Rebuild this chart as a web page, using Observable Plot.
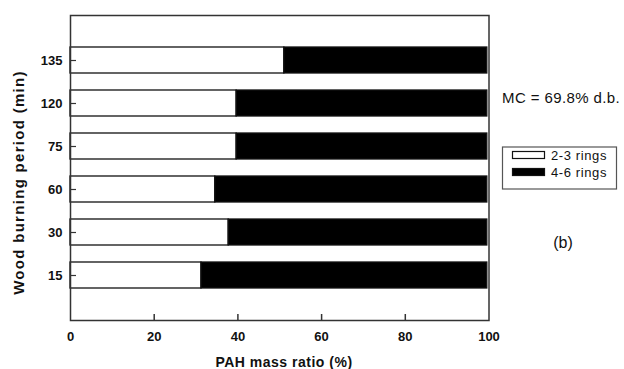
<!DOCTYPE html>
<html><head><meta charset="utf-8">
<script src="https://cdn.jsdelivr.net/npm/d3@7"></script>
<script src="https://cdn.jsdelivr.net/npm/@observablehq/plot@0.6"></script>
<style>body{margin:0;background:#fff}</style>
</head><body><div id="chart"></div>
<script>
// ---- data ----
const periods = ["135", "120", "75", "60", "30", "15"];
const seriesNames = ["2-3 rings", "4-6 rings"];
const ringsLow = [51.1, 39.7, 39.7, 34.6, 37.8, 31.3];
const ringsHigh = [48.5, 59.9, 59.9, 65.0, 61.8, 68.3];
const xTicks = [0, 20, 40, 60, 80, 100];
const xLabel = "PAH mass ratio (%)";
const yLabel = "Wood burning period (min)";
const noteText = "MC = 69.8% d.b.";
const panelText = "(b)";

const W = 624, H = 369;
const ml = 70, mr = 135.5, mt = 15, mb = 49;
const font = "'Liberation Sans', Arial, Helvetica, sans-serif";

const rows = periods.flatMap((p, i) => [
  {period: p, series: seriesNames[0], value: ringsLow[i]},
  {period: p, series: seriesNames[1], value: ringsHigh[i]}
]);

const innerW = W - ml - mr, innerH = H - mt - mb;

const svg = Plot.plot({
  width: W, height: H,
  marginLeft: ml, marginRight: mr, marginTop: mt, marginBottom: mb,
  style: {fontFamily: font, background: "white", color: "#111"},
  x: {domain: [0, 100]},
  y: {domain: periods, paddingInner: 0.4, paddingOuter: 0.7},
  color: {domain: seriesNames, range: ["white", "black"]},
  marks: [
    Plot.barX(rows, {y: "period", x: "value", fill: "series", stroke: "#111", strokeWidth: 1.3, order: seriesNames}),
    Plot.ruleX(xTicks.slice(1, -1), {x: d => d, insetTop: innerH - 6, stroke: "#333", strokeWidth: 1.5}),
    Plot.ruleY(periods, {y: d => d, insetRight: innerW - 6, stroke: "#333", strokeWidth: 1.2}),
    Plot.axisX({ticks: xTicks, tickSize: 0, tickPadding: 11, fontSize: 13, fontWeight: "bold", label: null, tickFormat: d => String(d)}),
    Plot.axisY({tickSize: 0, tickPadding: 8, fontSize: 13, fontWeight: "bold", label: null}),
    Plot.frame({stroke: "#333", strokeWidth: 1.5})
  ]
});

const s = d3.select(svg);
// axis titles
s.append("text").attr("x", 284).attr("y", 366.5).attr("text-anchor", "middle")
  .attr("font-family", font).attr("font-size", 14).attr("font-weight", "bold")
  .attr("letter-spacing", 0.5).attr("fill", "#111").text(xLabel);
s.append("text").attr("transform", "translate(24,182.5) rotate(-90)").attr("text-anchor", "middle")
  .attr("font-family", font).attr("font-size", 15).attr("font-weight", "bold")
  .attr("letter-spacing", 1.3).attr("fill", "#111").text(yLabel);
// annotation
s.append("text").attr("x", 502).attr("y", 103).attr("text-anchor", "start").attr("font-family", font)
  .attr("font-size", 15).attr("letter-spacing", 0.4).attr("fill", "#111").text(noteText);
s.append("text").attr("x", 563).attr("y", 248).attr("text-anchor", "middle").attr("font-family", font)
  .attr("font-size", 16).attr("fill", "#111").text(panelText);
// legend
const lg = s.append("g");
lg.append("rect").attr("x", 502.5).attr("y", 147).attr("width", 114).attr("height", 42)
  .attr("fill", "white").attr("stroke", "#555").attr("stroke-width", 1.2);
const swY = [151, 168];
const swFill = ["white", "black"];
seriesNames.forEach((name, i) => {
  lg.append("rect").attr("x", 512.5).attr("y", swY[i] + 0.5).attr("width", 32).attr("height", 7)
    .attr("fill", swFill[i]).attr("stroke", "#111").attr("stroke-width", 1.2);
  lg.append("text").attr("x", 551).attr("y", swY[i] + 8.5).attr("text-anchor", "start").attr("font-family", font)
    .attr("font-size", 13).attr("letter-spacing", 0.6).attr("fill", "#111").text(name);
});

document.getElementById("chart").appendChild(svg);
</script>
</body></html>
